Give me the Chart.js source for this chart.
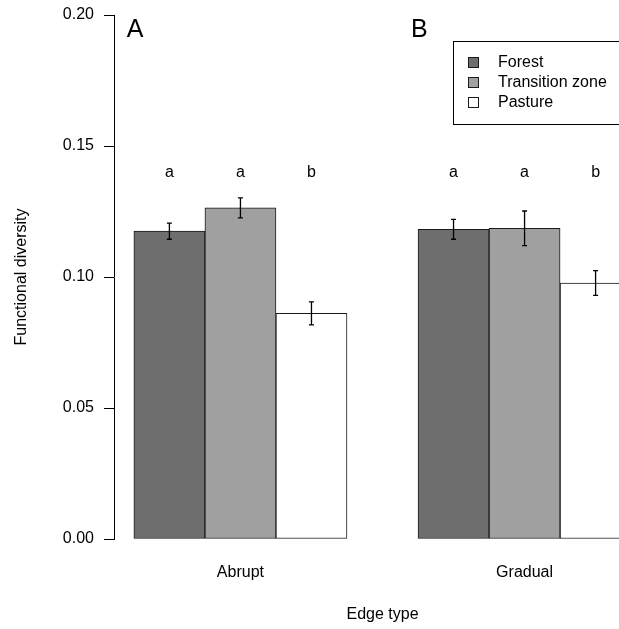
<!DOCTYPE html>
<html>
<head>
<meta charset="utf-8">
<script src="https://cdn.jsdelivr.net/npm/chart.js@4.4.1/dist/chart.umd.min.js"></script>
<style>
  html, body { margin: 0; padding: 0; background: #fff; overflow: hidden; }
  #wrap { width: 619px; height: 629px; overflow: hidden; position: relative; }
  #box { width: 700px; height: 629px; }
</style>
</head>
<body>
<div id="wrap"><div id="box"><canvas id="myChart"></canvas></div></div>
<script>
const edgeTypes = ['Abrupt', 'Gradual'];
const zones = ['Forest', 'Transition zone', 'Pasture'];

// means per edge type
const forest = [0.1175, 0.1182];
const transition = [0.1264, 0.1186];
const pasture = [0.0861, 0.0977];

// standard errors
const forestSE = [0.0031, 0.0038];
const transitionSE = [0.0038, 0.0066];
const pastureSE = [0.0044, 0.0047];

// significance letters (same for both panels)
const letters = ['a', 'a', 'b'];
const panelLabels = ['A', 'B'];
const yTicks = [0, 0.05, 0.10, 0.15, 0.20];

const series = [forest, transition, pasture];
const seriesSE = [forestSE, transitionSE, pastureSE];
const fills = ['#6e6e6e', '#a0a0a0', '#ffffff'];
const font = '"Liberation Sans", Arial, Helvetica, sans-serif';

// R barplot layout: bars width 1, one empty unit between groups
const xPos = (g, z) => 1.5 + 4 * g + z;

const datasets = zones.map((name, z) => ({
  label: name,
  data: edgeTypes.map((e, g) => ({ x: xPos(g, z), y: series[z][g] })),
  backgroundColor: fills[z],
  borderColor: '#1a1a1a',
  borderWidth: 1,
  borderSkipped: false,
  grouped: false,
  barPercentage: 1,
  categoryPercentage: 1,
}));

const extras = {
  id: 'extras',
  afterDatasetsDraw(chart) {
    const ctx = chart.ctx;
    const xs = chart.scales.x;
    const ys = chart.scales.y;
    const area = chart.chartArea;
    ctx.save();
    ctx.strokeStyle = '#000';
    ctx.fillStyle = '#000';
    ctx.lineWidth = 1.3;
    ctx.font = '16px ' + font;
    ctx.textAlign = 'center';
    ctx.textBaseline = 'middle';
    series.forEach((vals, z) => {
      const meta = chart.getDatasetMeta(z);
      meta.data.forEach((bar, g) => {
        const top = ys.getPixelForValue(vals[g] + seriesSE[z][g]);
        const bot = ys.getPixelForValue(vals[g] - seriesSE[z][g]);
        ctx.beginPath();
        ctx.moveTo(bar.x, top);
        ctx.lineTo(bar.x, bot);
        ctx.moveTo(bar.x - 2.5, top);
        ctx.lineTo(bar.x + 2.5, top);
        ctx.moveTo(bar.x - 2.5, bot);
        ctx.lineTo(bar.x + 2.5, bot);
        ctx.stroke();
        ctx.fillText(letters[z], bar.x, ys.getPixelForValue(0.14));
      });
    });

    // panel letters
    ctx.font = '25px ' + font;
    ctx.textAlign = 'left';
    ctx.textBaseline = 'alphabetic';
    panelLabels.forEach((lab, g) => {
      ctx.fillText(lab, xs.getPixelForValue(1 + 4 * g - 0.1), ys.getPixelForValue(0.1916));
    });

    // legend box
    const lx = area.right - 198;
    const ly = area.top + 26;
    ctx.lineWidth = 1;
    ctx.strokeStyle = '#000';
    ctx.strokeRect(lx + 0.5, ly + 0.5, 220, 83);
    ctx.font = '16px ' + font;
    ctx.textBaseline = 'middle';
    zones.forEach((name, z) => {
      const cy = ly + 21 + z * 20;
      ctx.fillStyle = fills[z];
      ctx.fillRect(lx + 15, cy - 5, 11, 11);
      ctx.strokeStyle = '#1a1a1a';
      ctx.strokeRect(lx + 15.5, cy - 4.5, 10, 10);
      ctx.fillStyle = '#000';
      ctx.fillText(name, lx + 45, cy + 1);
    });
    ctx.restore();
  },
};

const config = {
  type: 'bar',
  data: { datasets },
  options: {
    responsive: true,
    maintainAspectRatio: false,
    animation: false,
    layout: { padding: { left: 0, right: 49, top: 15, bottom: 0 } },
    plugins: { legend: { display: false }, tooltip: { enabled: false } },
    scales: {
      x: {
        type: 'linear',
        offset: false,
        min: 1 - 0.04 * 7,
        max: 8 + 0.04 * 7,
        grid: { display: false, drawTicks: false },
        border: { display: false },
        afterBuildTicks(scale) {
          scale.ticks = edgeTypes.map((e, g) => ({ value: xPos(g, 1) }));
        },
        ticks: {
          padding: 24,
          color: '#000',
          font: { family: font, size: 16 },
          callback(value) {
            const g = edgeTypes.findIndex((e, i) => xPos(i, 1) === value);
            return edgeTypes[g];
          },
        },
        title: {
          display: true,
          text: 'Edge type',
          color: '#000',
          font: { family: font, size: 16 },
          padding: { top: 0, bottom: 5 },
        },
        afterFit(scale) {
          scale.height = 90;
          scale.paddingLeft = 0;
          scale.paddingRight = 0;
        },
      },
      y: {
        min: 0,
        max: 0.2,
        afterBuildTicks(scale) {
          scale.ticks = yTicks.map(v => ({ value: v }));
        },
        grid: {
          display: true,
          drawOnChartArea: false,
          drawTicks: true,
          tickLength: 10,
          color: '#000',
        },
        border: { display: true, color: '#000', width: 1 },
        ticks: {
          padding: 10,
          color: '#000',
          font: { family: font, size: 16 },
          callback: v => v.toFixed(2),
        },
        title: {
          display: true,
          text: 'Functional diversity',
          color: '#000',
          font: { family: font, size: 16 },
          padding: { top: 12, bottom: 0 },
        },
        afterFit(scale) {
          scale.width = 114;
          scale.paddingTop = 0;
          scale.paddingBottom = 0;
        },
      },
    },
  },
  plugins: [extras],
};

const myChart = new Chart(document.querySelector('#myChart'), config);
</script>
</body>
</html>
